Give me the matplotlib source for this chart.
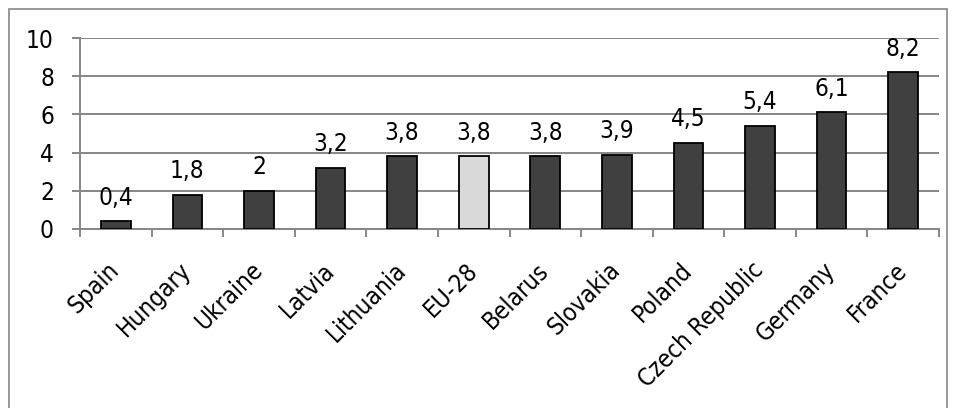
import matplotlib
matplotlib.use("Agg")
import matplotlib.pyplot as plt
from matplotlib.patches import Rectangle
import numpy as np

countries = ["Spain", "Hungary", "Ukraine", "Latvia", "Lithuania", "EU-28",
             "Belarus", "Slovakia", "Poland", "Czech Republic", "Germany", "France"]
values = [0.4, 1.8, 2.0, 3.2, 3.8, 3.8, 3.8, 3.9, 4.5, 5.4, 6.1, 8.2]
value_labels = ["0,4", "1,8", "2", "3,2", "3,8", "3,8", "3,8", "3,9", "4,5", "5,4", "6,1", "8,2"]
y_ticks = [0, 2, 4, 6, 8, 10]

W, H = 956, 408
plt.rcParams["font.family"] = ["DejaVu Sans"]
plt.rcParams["font.stretch"] = "condensed"
fs = 17.5

fig = plt.figure(figsize=(W / 100, H / 100), dpi=100)

# outer chart border
fig.patches.append(Rectangle((9 / W, 1 - 414 / H), (947 - 9) / W, (414 - 9) / H,
                             transform=fig.transFigure, fill=False,
                             edgecolor="#868686", linewidth=1.2, zorder=0))

ax = fig.add_axes([80 / W, 1 - 229 / H, (939 - 80) / W, (229 - 38) / H])

grey = "#868686"
x = np.arange(len(countries))
colors = ["#d9d9d9" if c == "EU-28" else "#404040" for c in countries]
ax.bar(x, values, width=0.415, color=colors, edgecolor="black", linewidth=1.3, zorder=3)

for xi, v, lab in zip(x, values, value_labels):
    ax.annotate(lab, (xi, v), xytext=(0, 12), textcoords="offset points",
                ha="center", va="baseline", fontsize=fs, color="black")

ax.set_xlim(-0.5, len(countries) - 0.5)
ax.set_ylim(0, 10)
ax.set_yticks(y_ticks)
ax.set_yticklabels([str(t) for t in y_ticks], fontsize=fs)
ax.yaxis.grid(True, color=grey, linewidth=1.4, zorder=0)
ax.set_axisbelow(True)

ax.set_xticks(x)
ax.set_xticklabels(countries, rotation=45, ha="right", va="center",
                   rotation_mode="anchor", fontsize=fs)
ax.set_xticks(np.arange(-0.5, len(countries), 1.0), minor=True)
ax.tick_params(axis="x", which="major", length=0, pad=27)
ax.tick_params(axis="x", which="minor", length=5.8, width=1.4, color=grey, direction="out")
ax.tick_params(axis="y", length=5.8, width=1.4, color=grey, direction="out", pad=13)

for s in ["top", "right"]:
    ax.spines[s].set_visible(False)
for s in ["left", "bottom"]:
    ax.spines[s].set_color(grey)
    ax.spines[s].set_linewidth(1.4)

fig.savefig("out.png", dpi=100)
